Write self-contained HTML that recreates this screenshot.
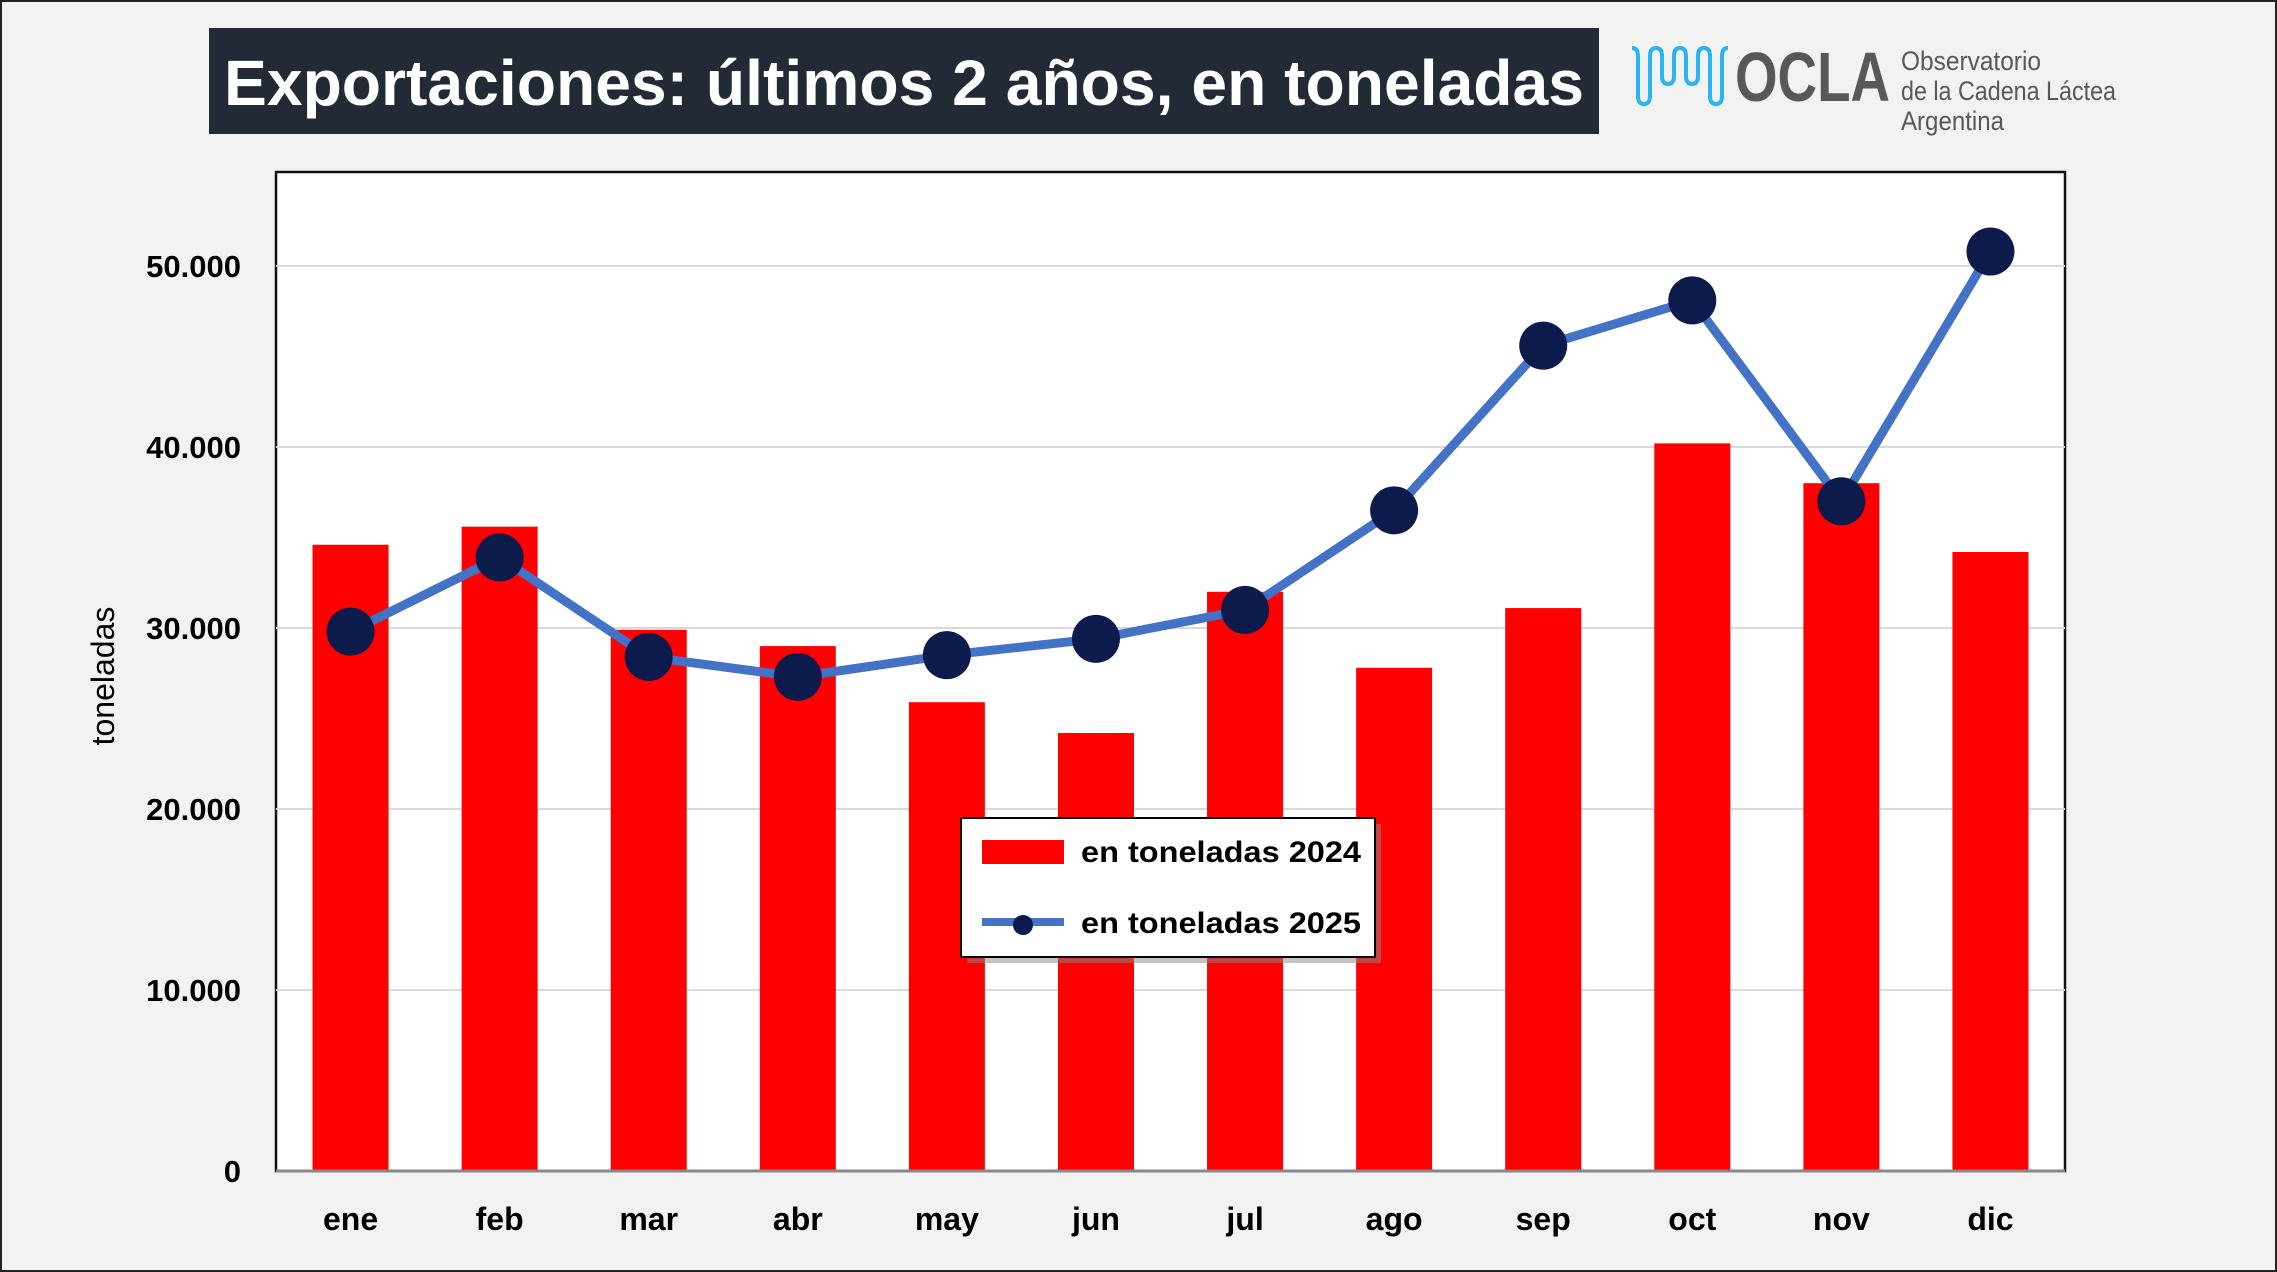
<!DOCTYPE html>
<html><head><meta charset="utf-8"><style>
html,body{margin:0;padding:0;background:#f2f2f2;}
svg{display:block;font-family:"Liberation Sans",sans-serif;}
</style></head><body>
<svg id="c" width="2277" height="1272" viewBox="0 0 2277 1272">
<rect x="1" y="1" width="2275" height="1270" fill="#f2f2f2" stroke="#222" stroke-width="2"/>
<rect x="209" y="28" width="1390" height="106" fill="#222a35"/>
<text x="904" y="105" text-anchor="middle" fill="#fff" font-size="64" font-weight="bold" textLength="1360" lengthAdjust="spacingAndGlyphs">Exportaciones: últimos 2 años, en toneladas</text>
<g>
<path d="M1632,48 q6,0 6,8 v40 q0,8 6,8 q6,0 6,-8 v-40 q0,-8 6,-8 q6,0 6,8 v20 q0,8 6,8 q6,0 6,-8 v-20 q0,-8 6,-8 q6,0 6,8 v20 q0,8 6,8 q6,0 6,-8 v-20 q0,-8 6,-8 q6,0 6,8 v40 q0,8 6,8 q6,0 6,-8 v-40 q0,-8 6,-8" fill="none" stroke="#29b6f0" stroke-width="4"/>
<text x="1735" y="101" font-size="70" font-weight="bold" fill="#58585a" textLength="155" lengthAdjust="spacingAndGlyphs">OCLA</text>
<text x="1901" y="70" font-size="27" fill="#58585a" textLength="140" lengthAdjust="spacingAndGlyphs">Observatorio</text>
<text x="1901" y="100" font-size="27" fill="#58585a" textLength="215" lengthAdjust="spacingAndGlyphs">de la Cadena Láctea</text>
<text x="1901" y="130" font-size="27" fill="#58585a" textLength="103" lengthAdjust="spacingAndGlyphs">Argentina</text>
</g>
<rect x="276" y="172" width="1789" height="999" fill="#fff" stroke="#111" stroke-width="2.5"/>
<g id="grid"></g><g id="bars"></g><g id="line"></g><g id="labels"></g>
<text transform="translate(114,676) rotate(-90)" text-anchor="middle" font-size="32" fill="#000">toneladas</text>
<g>
<rect x="967" y="824" width="414" height="139" fill="#888" opacity="0.5"/>
<rect x="961" y="818" width="414" height="139" fill="#fff" stroke="#000" stroke-width="2"/>
<rect x="982" y="840" width="82" height="24" fill="#ff0000"/>
<text x="1081" y="862" font-size="30" font-weight="bold" textLength="280" lengthAdjust="spacingAndGlyphs">en toneladas 2024</text>
<line x1="982" y1="922" x2="1064" y2="922" stroke="#4472c4" stroke-width="8"/>
<circle cx="1023" cy="925" r="10" fill="#0c1a4c"/>
<text x="1081" y="933" font-size="30" font-weight="bold" textLength="280" lengthAdjust="spacingAndGlyphs">en toneladas 2025</text>
</g>
</svg>
<script>
const categories=["ene","feb","mar","abr","may","jun","jul","ago","sep","oct","nov","dic"];
const values2024=[34600,35600,29900,29000,25900,24200,32000,27800,31100,40200,38000,34200];
const values2025=[29800,33900,28400,27300,28500,29400,31000,36500,45600,48100,37000,50800];
const yTicks=[0,10000,20000,30000,40000,50000];
const yTickLabels=["0","10.000","20.000","30.000","40.000","50.000"];
const NS="http://www.w3.org/2000/svg";
const x0=276,x1=2065,yZero=1171,yTop=172;
const yScale=v=>yZero-v*(1171-266)/50000;
const band=(x1-x0)/categories.length;
const xC=i=>x0+band*(i+0.5);
function mk(tag,attrs,parent){const e=document.createElementNS(NS,tag);for(const k in attrs)e.setAttribute(k,attrs[k]);parent.appendChild(e);return e;}
const grid=document.getElementById('grid'),bars=document.getElementById('bars'),line=document.getElementById('line'),labels=document.getElementById('labels');
yTicks.forEach((t,i)=>{
  const y=yScale(t);
  if(t>0){const g=mk('line',{x1:x0,x2:x1,y1:y,y2:y,stroke:'#d9d9d9','stroke-width':2},grid);
  
  }
  const l=mk('text',{x:241,y:y+11,'text-anchor':'end','font-size':31,'font-weight':'bold'},labels);
  l.textContent=yTickLabels[i];
  
  
});
categories.forEach((c,i)=>{
  const b=mk('rect',{x:xC(i)-38,y:yScale(values2024[i]),width:76,height:yZero-yScale(values2024[i]),fill:'#ff0000'},bars);
  
  
  const t=mk('text',{x:xC(i),y:1230,'text-anchor':'middle','font-size':32,'font-weight':'bold'},labels);
  t.textContent=c;
  
  
});
const bl=mk('line',{x1:x0,x2:x1,y1:yZero,y2:yZero,stroke:'#888','stroke-width':3},labels);


const pl=mk('polyline',{points:values2025.map((v,i)=>xC(i)+','+yScale(v)).join(' '),fill:'none',stroke:'#4472c4','stroke-width':9,'stroke-linejoin':'round'},line);


values2025.forEach((v,i)=>{
  const p=mk('circle',{cx:xC(i),cy:yScale(v),r:24,fill:'#0c1a4c'},line);
  
  
});
</script>
</body></html>
